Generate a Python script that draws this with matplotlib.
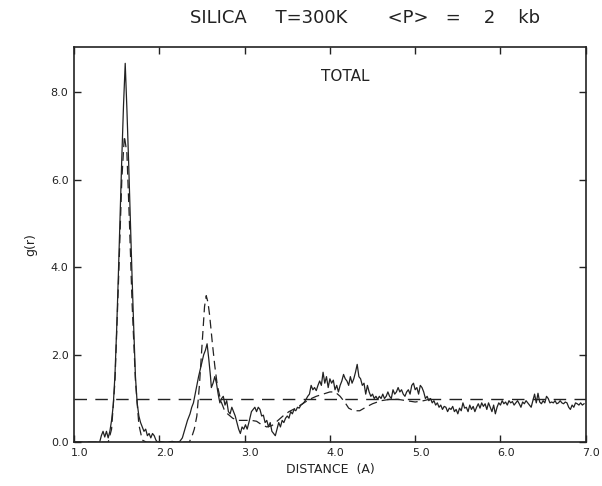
import numpy as np
import matplotlib

matplotlib.use('Agg')
import matplotlib.pyplot as plt
from matplotlib.transforms import ScaledTranslation

# simulated g(r) (solid, noisy)
r_md = [1.00, 1.30, 1.32, 1.34, 1.36, 1.38, 1.40, 1.42, 1.44, 1.46, 1.48, 1.50, 1.52, 1.54, 1.56, 1.58,
        1.60, 1.62, 1.64, 1.66, 1.68, 1.70, 1.72, 1.74, 1.76, 1.78, 1.80, 1.82, 1.84, 1.86, 1.88, 1.90,
        1.92, 1.94, 1.96, 1.98, 2.00, 2.05, 2.10, 2.15, 2.20, 2.24, 2.27, 2.30, 2.33, 2.36, 2.38, 2.40,
        2.43, 2.46, 2.49, 2.52, 2.54, 2.56, 2.58, 2.60, 2.61, 2.63, 2.65, 2.67, 2.69, 2.71, 2.73, 2.75,
        2.77, 2.79, 2.81, 2.83, 2.85, 2.87, 2.89, 2.91, 2.93, 2.95, 2.97, 2.99, 3.01, 3.03, 3.05, 3.08,
        3.10, 3.12, 3.14, 3.16, 3.18, 3.20, 3.22, 3.24, 3.26, 3.28, 3.30, 3.32, 3.34, 3.36, 3.38, 3.40,
        3.42, 3.44, 3.46, 3.48, 3.50, 3.52, 3.54, 3.56, 3.58, 3.60, 3.62, 3.64, 3.66, 3.68, 3.70, 3.72,
        3.74, 3.76, 3.78, 3.80, 3.82, 3.84, 3.86, 3.88, 3.90, 3.92, 3.94, 3.96, 3.98, 4.00, 4.02, 4.04,
        4.06, 4.08, 4.10, 4.12, 4.14, 4.16, 4.18, 4.20, 4.22, 4.24, 4.26, 4.28, 4.30, 4.32, 4.34, 4.36,
        4.38, 4.40, 4.42, 4.44, 4.46, 4.48, 4.50, 4.52, 4.54, 4.56, 4.58, 4.60, 4.62, 4.64, 4.66, 4.68,
        4.70, 4.72, 4.74, 4.76, 4.78, 4.80, 4.82, 4.84, 4.86, 4.88, 4.90, 4.92, 4.94, 4.96, 4.98, 5.00,
        5.02, 5.04, 5.06, 5.08, 5.10, 5.12, 5.14, 5.16, 5.18, 5.20, 5.22, 5.24, 5.26, 5.28, 5.30, 5.32,
        5.34, 5.36, 5.38, 5.40, 5.42, 5.44, 5.46, 5.48, 5.50, 5.52, 5.54, 5.56, 5.58, 5.60, 5.62, 5.64,
        5.66, 5.68, 5.70, 5.72, 5.74, 5.76, 5.78, 5.80, 5.82, 5.84, 5.86, 5.88, 5.90, 5.92, 5.94, 5.96,
        5.98, 6.00, 6.02, 6.04, 6.06, 6.08, 6.10, 6.12, 6.14, 6.16, 6.18, 6.20, 6.22, 6.24, 6.26, 6.28,
        6.30, 6.32, 6.34, 6.36, 6.38, 6.40, 6.42, 6.44, 6.46, 6.48, 6.50, 6.52, 6.54, 6.56, 6.58, 6.60,
        6.62, 6.64, 6.66, 6.68, 6.70, 6.72, 6.74, 6.76, 6.78, 6.80, 6.82, 6.84, 6.86, 6.88, 6.90, 6.92,
        6.94, 6.96, 6.98]
g_md = [0.0, 0.0, 0.15, 0.25, 0.12, 0.25, 0.1, 0.25, 0.5, 0.85, 1.55, 2.6, 3.85, 5.2, 6.5, 7.7,
        8.66, 7.6, 6.4, 5.1, 3.8, 2.6, 1.5, 0.9, 0.6, 0.45, 0.35, 0.25, 0.3, 0.15, 0.2, 0.1,
        0.2, 0.15, 0.05, 0.0, 0.02, 0.0, 0.0, 0.02, 0.0, 0.02, 0.1, 0.3, 0.5, 0.65, 0.8, 0.9,
        1.2, 1.5, 1.75, 2.0, 2.1, 2.25, 1.9, 1.5, 1.25, 1.35, 1.5, 1.35, 1.1, 0.9, 1.0, 1.05,
        0.85, 0.95, 0.7, 0.65, 0.8, 0.7, 0.6, 0.45, 0.3, 0.2, 0.35, 0.3, 0.4, 0.3, 0.45, 0.7,
        0.75, 0.8, 0.7, 0.8, 0.75, 0.6, 0.62, 0.45, 0.5, 0.35, 0.45, 0.25, 0.2, 0.15, 0.3, 0.45,
        0.35, 0.5, 0.45, 0.55, 0.6, 0.55, 0.7, 0.65, 0.75, 0.72, 0.8, 0.78, 0.85, 0.88, 0.92, 0.98,
        1.05, 1.1, 1.3, 1.2, 1.25, 1.18, 1.3, 1.4, 1.3, 1.6, 1.35, 1.5, 1.25, 1.45, 1.35, 1.42,
        1.2, 1.3, 1.15, 1.3, 1.4, 1.55, 1.45, 1.4, 1.3, 1.5, 1.35, 1.45, 1.6, 1.78, 1.5, 1.45,
        1.3, 1.35, 1.1, 1.3, 1.15, 1.05, 1.1, 1.0, 1.05, 0.98, 1.05, 1.0, 1.1, 1.0, 1.05, 1.15,
        1.05, 1.0, 1.2, 1.1, 1.15, 1.25, 1.15, 1.2, 1.1, 1.05, 1.15, 1.2, 1.1, 1.3, 1.35, 1.2,
        1.25, 1.1, 1.3, 1.25, 1.15, 1.0, 1.05, 0.95, 1.0, 0.9, 0.95, 0.85, 0.9, 0.8, 0.85, 0.75,
        0.82, 0.8, 0.7, 0.78, 0.75, 0.82, 0.7, 0.75, 0.65, 0.78, 0.72, 0.9, 0.78, 0.8, 0.7, 0.85,
        0.75, 0.82, 0.7, 0.8, 0.88, 0.78, 0.9, 0.82, 0.88, 0.75, 0.9, 0.8, 0.7, 0.85, 0.65, 0.8,
        0.9, 0.85, 0.95, 0.88, 0.92, 0.85, 0.95, 0.9, 0.93, 0.85, 0.9, 0.95, 0.88, 0.8, 0.92, 0.88,
        0.95, 0.9, 0.85, 0.8, 0.95, 1.1, 0.9, 1.12, 0.92, 0.88, 0.95, 0.9, 1.05, 1.0, 0.9, 0.92,
        0.9, 0.95, 0.88, 0.9, 0.95, 0.9, 0.88, 0.92, 0.9, 0.8, 0.75, 0.85, 0.8, 0.9, 0.88, 0.85,
        0.9, 0.85, 0.88]

# reference g(r) (dashed, smooth)
r_ref = [1.00, 1.40, 1.44, 1.48, 1.52, 1.56, 1.59, 1.62, 1.65, 1.68, 1.72, 1.76, 1.80, 1.85, 2.35,
         2.38, 2.41, 2.44, 2.47, 2.50, 2.53, 2.55, 2.57, 2.59, 2.62, 2.65, 2.68, 2.72, 2.76, 2.80,
         2.86, 2.92, 3.00, 3.08, 3.14, 3.20, 3.26, 3.32, 3.38, 3.45, 3.52, 3.60, 3.68, 3.76, 3.84,
         3.92, 4.00, 4.06, 4.12, 4.18, 4.22, 4.28, 4.35, 4.42, 4.50, 4.60, 4.70, 4.80, 4.90, 5.00,
         5.10, 5.20]
g_ref = [0.0, 0.0, 0.3, 1.4, 3.6, 6.0, 7.0, 6.6, 5.0, 3.2, 1.4, 0.4, 0.05, 0.0, 0.0,
         0.12, 0.3, 0.6, 1.3, 2.2, 3.1, 3.35, 3.2, 2.9, 2.3, 1.75, 1.3, 0.95, 0.75, 0.65,
         0.55, 0.5, 0.5, 0.5, 0.48, 0.4, 0.35, 0.38, 0.48, 0.6, 0.7, 0.78, 0.88, 0.98, 1.05,
         1.1, 1.15, 1.15, 1.05, 0.9, 0.78, 0.72, 0.72, 0.8, 0.88, 0.95, 0.98, 0.98, 0.95, 0.92,
         0.95, 1.0]

x_ticks = [1, 2, 3, 4, 5, 6, 7]
y_ticks = [0, 2, 4, 6, 8]

ink = '#222222'
plt.rcParams['font.family'] = 'DejaVu Sans'

fig = plt.figure(figsize=(6.02, 4.86), dpi=100)
ax = fig.add_axes([0.123, 0.09, 0.85, 0.813])

ax.plot(r_md, g_md, color=ink, linewidth=0.9)
ax.plot(r_ref, g_ref, color=ink, linewidth=0.9, linestyle=(0, (7, 4)))
ax.axhline(1.0, color=ink, linewidth=1.0, linestyle=(0, (9, 6)))

ax.set_xlim(1.0, 7.0)
ax.set_ylim(0, 9.03)
ax.set_xticks(x_ticks)
ax.set_xticklabels([f'{v:.1f}' for v in x_ticks])
ax.set_yticks(y_ticks)
ax.set_yticklabels([f'{v:.1f}' for v in y_ticks])
ax.tick_params(direction='in', length=5, width=1, colors=ink, labelsize=8,
               top=True, right=True, pad=4)
for lab in ax.get_xticklabels():
    lab.set_transform(lab.get_transform() + ScaledTranslation(4 / 72, 0, fig.dpi_scale_trans))
for s in ax.spines.values():
    s.set_color(ink)
    s.set_linewidth(1.2)

ax.set_xlabel('DISTANCE  (A)', fontsize=9, color=ink, labelpad=4)
ax.set_ylabel('g(r)', fontsize=9, color=ink, labelpad=10)
ax.text(4.18, 8.36, 'TOTAL', fontsize=11, color=ink, ha='center', va='center')
fig.text(190 / 602, 0.963, 'SILICA     T=300K       <P>   =    2    kb', fontsize=13,
         color=ink, ha='left', va='center')

plt.savefig('out.png', dpi=100)
plt.close()
